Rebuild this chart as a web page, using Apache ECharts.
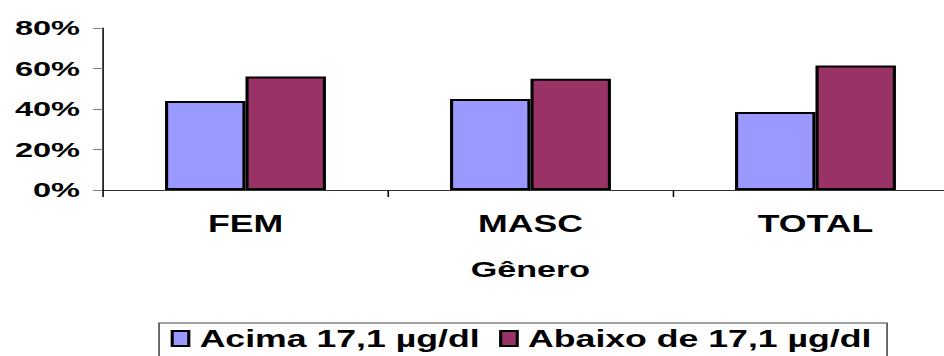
<!DOCTYPE html>
<html>
<head>
<meta charset="utf-8">
<script src="https://cdn.jsdelivr.net/npm/echarts@6/dist/echarts.min.js"></script>
<style>
html,body{margin:0;padding:0;background:#fff;overflow:hidden;}
#wrap{width:944px;height:356px;overflow:hidden;position:relative;}
#chart{width:609px;height:356px;transform:scaleX(1.55);transform-origin:0 0;}
</style>
</head>
<body>
<div id="wrap"><div id="chart"></div></div>
<script>
const categories = ['FEM', 'MASC', 'TOTAL'];
const acima = [44, 45, 38.5];
const abaixo = [56, 55, 61.5];
const seriesNames = ['Acima 17,1 µg/dl', 'Abaixo de 17,1 µg/dl'];
const yTicks = [0, 20, 40, 60, 80];
const axisTitle = 'Gênero';

const FONT = '"Liberation Sans", Arial, sans-serif';
const chart = echarts.init(document.getElementById('chart'), null, {renderer: 'svg'});
chart.setOption({
  animation: false,
  backgroundColor: '#ffffff',
  grid: {left: 66.45, top: 28, width: 551.6, height: 162, containLabel: false, outerBoundsMode: 'none'},
  legend: {
    data: seriesNames,
    left: 102.6,
    top: 323,
    orient: 'horizontal',
    padding: [4, 10, 20, 7.5],
    itemWidth: 10.7,
    itemHeight: 15,
    itemGap: 12.5,
    borderColor: '#444',
    borderWidth: 1,
    textStyle: {fontFamily: FONT, fontWeight: 'bold', fontSize: 23, color: '#000', padding: [0, 0, 0, 2]},
    icon: 'rect'
  },
  xAxis: {
    type: 'category',
    data: categories,
    name: axisTitle,
    nameLocation: 'middle',
    nameGap: 68,
    nameTextStyle: {fontFamily: FONT, fontWeight: 'bold', fontSize: 22, color: '#000'},
    axisLine: {lineStyle: {color: '#333', width: 1}},
    axisTick: {show: true, length: 7, lineStyle: {color: '#000', width: 1}},
    axisLabel: {fontFamily: FONT, fontWeight: 'bold', fontSize: 23, color: '#000', margin: 22},
    splitLine: {show: false}
  },
  yAxis: {
    type: 'value',
    min: yTicks[0],
    max: yTicks[yTicks.length - 1],
    interval: 20,
    axisLine: {show: true, lineStyle: {color: '#000', width: 1}},
    axisTick: {show: true, length: 6.5, lineStyle: {color: '#808080', width: 1}},
    axisLabel: {fontFamily: FONT, fontWeight: 'bold', fontSize: 21, color: '#000', margin: 14.8, formatter: '{value}%'},
    splitLine: {show: false}
  },
  series: [
    {
      name: seriesNames[0], type: 'bar', data: acima, barWidth: 51.9, barGap: '0%',
      itemStyle: {color: '#9999FF', borderColor: '#000', borderWidth: 2}
    },
    {
      name: seriesNames[1], type: 'bar', data: abaixo, barWidth: 51.9, barGap: '0%',
      itemStyle: {color: '#993366', borderColor: '#000', borderWidth: 2}
    }
  ]
});
</script>
</body>
</html>
